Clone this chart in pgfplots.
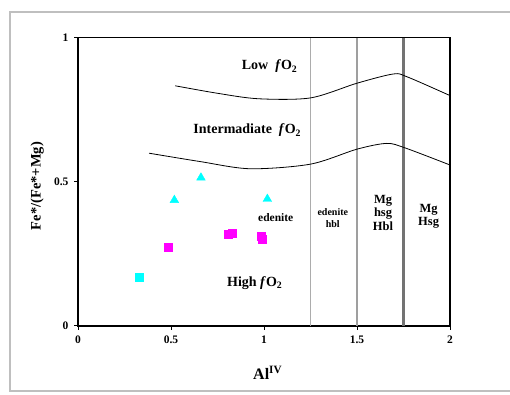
\documentclass[border=0pt]{standalone}
\usepackage{pgfplots}
\pgfplotsset{compat=1.18}
\usepackage{fontspec}
\setmainfont{Liberation Serif}
\definecolor{cy}{RGB}{0,255,255}
\definecolor{mg}{RGB}{255,0,255}
\begin{document}
\begin{tikzpicture}[x=1pt,y=1pt]
\useasboundingbox (0,0) rectangle (510,394);
\draw[gray!50, line width=2pt] (510,382) -- (10,382) -- (10,3) -- (510,3);
\begin{axis}[
  at={(78pt,68.3pt)}, anchor=south west,
  scale only axis, width=372pt, height=288pt,
  xmin=0, xmax=2, ymin=0, ymax=1,
  xtick={0,0.5,1,1.5,2}, ytick={0,0.5,1},
  xtick pos=lower, ytick pos=left,
  tick align=outside, major tick length=4pt,
  axis line style={line width=1.6pt},
  every tick/.style={black, line width=0.8pt},
  /pgf/number format/assume math mode=true,
  ticklabel style={font=\bfseries\fontsize{11.5}{11.5}\selectfont},
  xticklabel style={yshift=-3pt},
  yticklabel style={xshift=-2pt},
  xlabel={Al\textsuperscript{IV}},
  ylabel={Fe*/(Fe*+Mg)},
  xlabel style={font=\bfseries\fontsize{16}{16}\selectfont, at={(axis description cs:0.51,-0.164)}, anchor=center},
  ylabel style={font=\bfseries\fontsize{14.5}{14.5}\selectfont, at={(axis description cs:-0.11,0.485)}, anchor=center, rotate=0},
  clip=false,
]
% boundaries
\addplot[gray!65, line width=1.3pt] coordinates {(1.25,0) (1.25,1)};
\addplot[gray!75, line width=1.3pt] coordinates {(1.5,0) (1.5,1)};
\addplot[gray!90!black, line width=2.2pt] coordinates {(1.75,0) (1.75,1)};
% curves
\addplot[black, line width=0.8pt, smooth] coordinates {
(0.523,0.833) (0.75,0.807) (0.97,0.788) (1.25,0.791) (1.5,0.842) (1.695,0.874) (1.77,0.864) (2,0.799)};
\addplot[black, line width=0.8pt, smooth] coordinates {
(0.382,0.599) (0.656,0.570) (0.925,0.545) (1.25,0.561) (1.5,0.613) (1.66,0.633) (1.76,0.617) (2,0.558)};
% data
\addplot[only marks, mark=triangle*, mark size=5pt, color=cy] coordinates {
(0.661,0.514) (0.518,0.436) (1.018,0.440)};
\addplot[only marks, mark=square*, mark size=4pt, color=cy] coordinates {(0.330,0.168)};
\addplot[only marks, mark=square*, mark size=4pt, color=mg] coordinates {
(0.486,0.271) (0.808,0.318) (0.830,0.321) (0.984,0.311) (0.988,0.302)};
% labels
\node[font=\bfseries\fontsize{14}{14}\selectfont] at (axis cs:1.03,0.9) {Low\ \ \textit{f}O\textsubscript{2}};
\node[font=\bfseries\fontsize{14}{14}\selectfont] at (axis cs:0.91,0.678) {Intermadiate\ \ \textit{f}O\textsubscript{2}};
\node[font=\bfseries\fontsize{14}{14}\selectfont] at (axis cs:0.95,0.149) {High \textit{f}O\textsubscript{2}};
\node[font=\bfseries\fontsize{11.5}{11.5}\selectfont] at (axis cs:1.063,0.376) {edenite};
\node[font=\bfseries\fontsize{10}{12}\selectfont, align=center] at (axis cs:1.37,0.375) {edenite\\hbl};
\node[font=\bfseries\fontsize{12.5}{13.5}\selectfont, align=center] at (axis cs:1.64,0.393) {Mg\\hsg\\Hbl};
\node[font=\bfseries\fontsize{12.5}{13.5}\selectfont, align=center] at (axis cs:1.885,0.38) {Mg\\Hsg};
\end{axis}
\end{tikzpicture}
\end{document}
